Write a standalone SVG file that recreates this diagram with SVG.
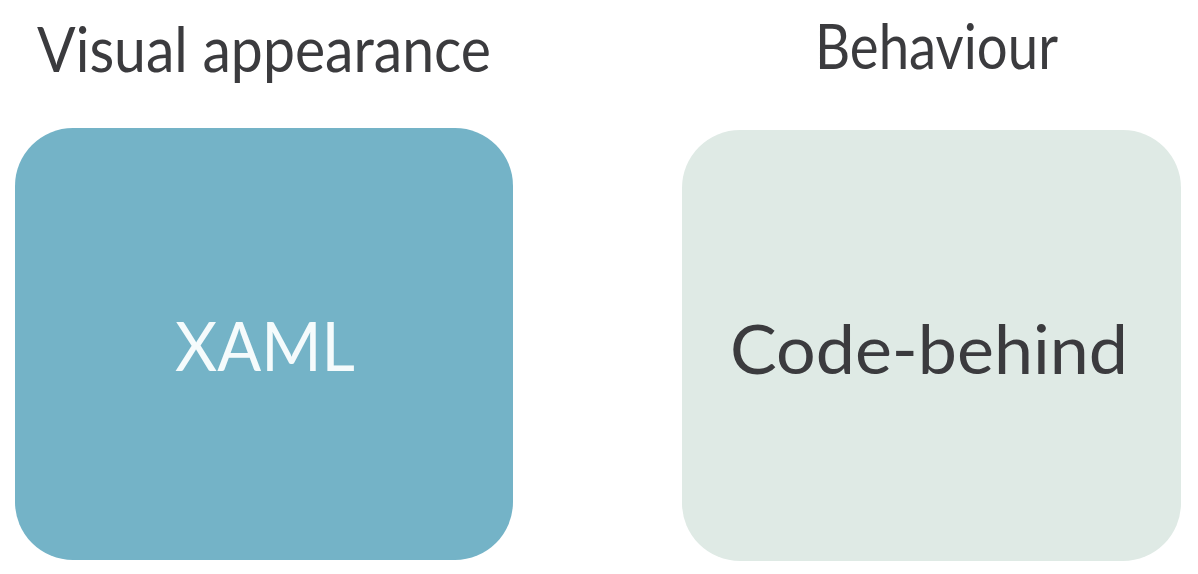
<svg xmlns="http://www.w3.org/2000/svg" width="1198" height="574" viewBox="0 0 1198 574">
<style>
.t{font-family:"Lato","Open Sans",sans-serif;fill:#3b3b3e}
.h{font-size:61px}
.b{font-size:68px}
</style>
<rect width="1198" height="574" fill="#ffffff"/>
<g id="label-visual"><text class="t h" x="37" y="72" textLength="454" lengthAdjust="spacingAndGlyphs">Visual appearance</text></g>
<g id="label-behaviour"><text class="t h" x="815" y="69" textLength="243" lengthAdjust="spacingAndGlyphs">Behaviour</text></g>
<g id="node-xaml">
<rect x="15" y="128" width="498" height="432" rx="58" ry="58" fill="#74b3c7"/>
<text class="t b" x="175" y="371" textLength="180" lengthAdjust="spacingAndGlyphs" style="fill:#f5fbfc">XAML</text>
</g>
<g id="node-code">
<rect x="682" y="130" width="499" height="431" rx="58" ry="58" fill="#dfeae5"/>
<text class="t b" x="730" y="374" textLength="398" lengthAdjust="spacingAndGlyphs">Code-behind</text>
</g>
<g id="connectors"/>
</svg>
